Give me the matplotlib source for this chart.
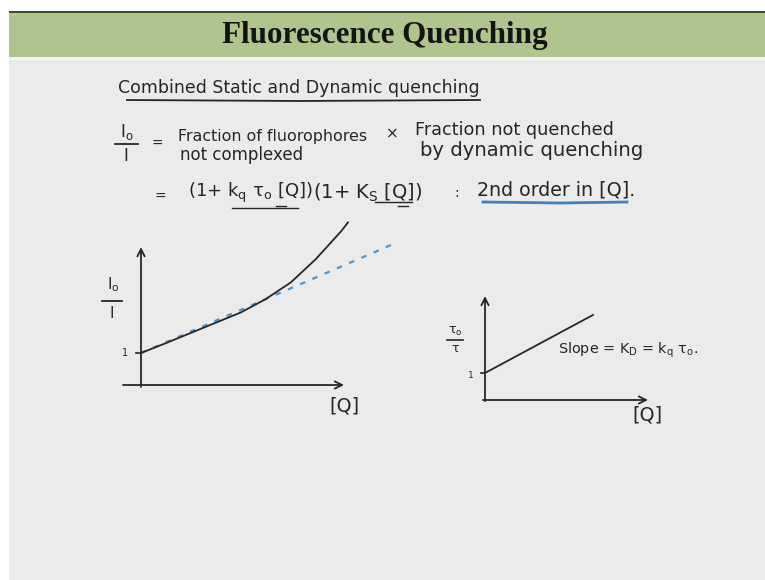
import matplotlib
matplotlib.use("Agg")
import matplotlib.pyplot as plt
from matplotlib.patches import Rectangle

W, H, DPI = 765, 580, 100
INK = "#262626"
BLUE = "#4f93cf"

# Left panel: I0/I against [Q] for combined static + dynamic quenching
q_curve = [0.0, 0.25, 0.5, 0.75, 1.0, 1.25, 1.5, 1.75, 2.0, 2.07]
ratio_curve = [1.0, 1.31, 1.63, 1.95, 2.27, 2.69, 3.21, 3.94, 4.80, 5.08]
# initial-slope straight line
q_tangent = [0.0, 2.5]
ratio_tangent = [1.0, 4.375]

# Right panel: tau0/tau against [Q]
q_lifetime = [0.0, 1.08]
tau_ratio = [1.0, 3.15]

plt.rcParams["font.family"] = ["DejaVu Sans"]
plt.rcParams["mathtext.fontset"] = "dejavusans"
plt.rcParams["mathtext.default"] = "regular"

fig = plt.figure(figsize=(W / DPI, H / DPI), dpi=DPI)
fig.patch.set_facecolor("white")

# slide canvas in pixel units (y downwards)
bg = fig.add_axes([0, 0, 1, 1])
bg.set_xlim(0, W)
bg.set_ylim(H, 0)
bg.axis("off")
bg.add_patch(Rectangle((9, 57), W - 9, H - 57, fc="#ebebeb", ec="none"))
bg.add_patch(Rectangle((9, 57), W - 9, 3, fc="#f3f3f3", ec="none"))
bg.add_patch(Rectangle((9, 13), W - 9, 44, fc="#b0c58e", ec="none"))
bg.add_patch(Rectangle((9, 11), W - 9, 2.2, fc="#3e4d30", ec="none"))

renderer = fig.canvas.get_renderer()


def fit_text(x0, x1, y, s, **kw):
    """Left-aligned text scaled so that it spans x0..x1 pixels."""
    kw.setdefault("color", INK)
    t = bg.text(x0, y, s, ha="left", va="center", fontsize=10, **kw)
    w = t.get_window_extent(renderer).width
    t.set_fontsize(10 * (x1 - x0) / w)
    return t


def put(x, y, s, size, **kw):
    kw.setdefault("color", INK)
    return bg.text(x, y, s, ha="center", va="center", fontsize=size, **kw)


# header
fit_text(222, 549, 35, "Fluorescence Quenching", family="Liberation Serif",
         weight="bold", color="#141414")

# handwritten notes
fit_text(118, 480, 88, "Combined Static and Dynamic quenching")
bg.plot([127, 300, 480], [100, 101, 100], color=INK, lw=1.3)

put(127, 132, r"I$_o$", 12)
bg.plot([115, 138], [144, 144], color=INK, lw=1.3)
put(126, 156, "I", 12)
put(157, 144, "=", 10)
fit_text(178, 367, 137, "Fraction of fluorophores")
put(392, 134, "×", 11)
fit_text(415, 613, 130, "Fraction not quenched")
fit_text(180, 303, 155, "not complexed")
fit_text(420, 643, 151, "by dynamic quenching")

put(160, 197, "=", 10)
fit_text(188, 313, 193, r"(1+ $k_q$ $\tau_o$ [Q])")
fit_text(313, 423, 193, r"(1+ $K_S$ [Q])")
bg.plot([232, 298], [208, 208], color=INK, lw=1.0)
bg.plot([276, 286], [206, 206], color=INK, lw=1.0)
bg.plot([375, 412], [202, 202], color=INK, lw=1.0)
bg.plot([398, 408], [206, 206], color=INK, lw=1.0)
put(457, 193, ":", 10)
fit_text(477, 635, 190, "2nd order in [Q].")
bg.plot([483, 560, 627], [202, 203, 202], color="#3c7fc3", lw=2.0)


def panel(origin, unit, box):
    ox, oy = origin
    ux, uy = unit
    x0, y0, x1, y1 = box
    ax = fig.add_axes([x0 / W, 1 - y1 / H, (x1 - x0) / W, (y1 - y0) / H])
    ax.set_xlim((x0 - ox) / ux, (x1 - ox) / ux)
    ax.set_ylim((oy - y1) / uy, (oy - y0) / uy)
    ax.axis("off")
    ax.patch.set_alpha(0)
    return ax


def arrow(ax, start, end):
    ax.annotate("", xy=end, xytext=start,
                arrowprops=dict(arrowstyle="->", lw=1.3, color=INK,
                                mutation_scale=13, shrinkA=0, shrinkB=0))


# left panel
axL = panel((141, 385), (100, 32), (95, 210, 405, 425))
arrow(axL, (0, -0.06), (0, 4.31))
arrow(axL, (-0.18, 0), (2.03, 0))
axL.plot([-0.05, 0], [1, 1], color=INK, lw=1.2)
axL.text(-0.155, 1.0, "1", ha="center", va="center", fontsize=7, color=INK)
axL.plot(q_tangent, ratio_tangent, color=BLUE, lw=1.6, dashes=(2.5, 3.5))
axL.plot(q_curve, ratio_curve, color=INK, lw=1.3, solid_joinstyle="round")

put(113, 285, r"I$_o$", 11)
bg.plot([102, 122], [301, 301], color=INK, lw=1.3)
put(112, 314, "I", 11)
fit_text(329, 359, 406, "[Q]")

# right panel
axR = panel((485, 400), (100, 27), (440, 285, 705, 430))
arrow(axR, (0, -0.04), (0, 3.85))
arrow(axR, (-0.02, 0), (1.63, 0))
axR.plot([-0.04, 0], [1, 1], color=INK, lw=1.2)
axR.text(-0.14, 0.9, "1", ha="center", va="center", fontsize=6.5, color=INK)
axR.plot(q_lifetime, tau_ratio, color=INK, lw=1.3)

put(455, 331, r"$\tau_o$", 9)
bg.plot([447, 463], [340, 340], color=INK, lw=1.2)
put(455, 348, r"$\tau$", 9)
fit_text(558, 698, 350, r"Slope = $K_D$ = $k_q$ $\tau_o$.")
fit_text(632, 662, 415, "[Q]")

fig.savefig("out.png", dpi=DPI, facecolor=fig.get_facecolor())
